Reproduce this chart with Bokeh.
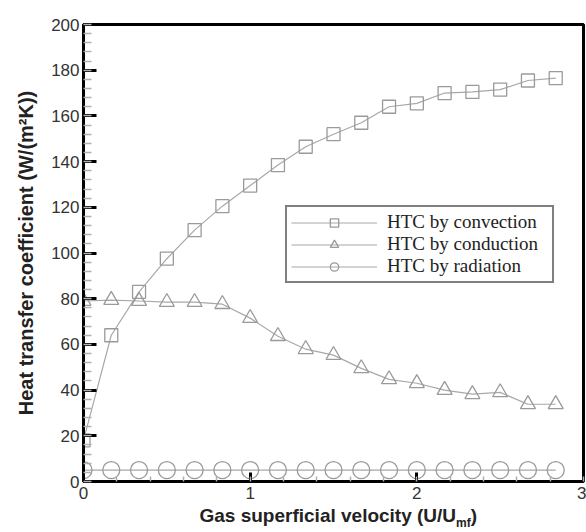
from bokeh.plotting import figure
from bokeh.models import (SingleIntervalTicker, FixedTicker, LinearAxis, Legend, LegendItem,
                          Range1d)
from bokeh.embed import file_html
from bokeh.resources import INLINE

# ---- data ----
velocity = [0, 1/6, 2/6, 3/6, 4/6, 5/6, 1.0, 7/6, 8/6, 9/6, 10/6, 11/6, 2.0, 13/6, 14/6, 15/6, 16/6, 17/6]
htc_convection = [18, 64, 83, 97.5, 110, 120.5, 129.5, 138.5, 146.5, 152, 157, 164, 165.5, 170, 170.5, 171.5, 175.5, 176.5]
htc_conduction = [79, 79.4, 79, 78.5, 78.5, 77.6, 71.5, 63.6, 57.9, 55.3, 49.5, 44.7, 43, 40, 38.2, 39, 33.8, 33.8]
htc_radiation = [5, 5, 5, 5, 5, 5, 5, 5, 5, 5, 5, 5, 5, 5, 5, 5, 5, 5]
series_names = ["HTC by convection", "HTC by conduction", "HTC by radiation"]
x_title_parts = ["Gas superficial velocity (U/U", "mf", ")"]
y_title = "Heat transfer coefficient (W/(m²K))"

GRAY_LINE = "#a8a8a8"
GRAY_MARK = "#9a9a9a"

W, H = 586, 532
ML, MR, MT, MB = 83, 3, 24, 51
X0, X1 = 0, 3

p = figure(width=W, height=H, output_backend="svg", toolbar_location=None,
           x_range=Range1d(X0, X1), y_range=Range1d(0, 200),
           min_border_left=ML, min_border_right=MR, min_border_top=MT, min_border_bottom=MB,
           background_fill_color="white", border_fill_color="white")

p.outline_line_color = "black"
p.outline_line_width = 3
p.grid.visible = False

# convection
r1l = p.line(velocity, htc_convection, line_color=GRAY_LINE, line_width=1.2)
r1m = p.scatter(velocity, htc_convection, marker="square", size=13, fill_color=None,
                line_color=GRAY_MARK, line_width=1.3)
# conduction
r2l = p.line(velocity, htc_conduction, line_color=GRAY_LINE, line_width=1.2)
r2m = p.scatter(velocity, htc_conduction, marker="triangle", size=15, fill_color=None,
                line_color=GRAY_MARK, line_width=1.3)
# radiation
r3l = p.line(velocity, htc_radiation, line_color=GRAY_LINE, line_width=1.2)
r3m = p.scatter(velocity, htc_radiation, marker="circle", size=17, fill_color=None,
                line_color=GRAY_MARK, line_width=1.3)

# axes
for ax in (p.xaxis[0], p.yaxis[0]):
    ax.axis_line_color = "black"
    ax.axis_line_width = 3
    ax.major_tick_line_color = "black"
    ax.major_tick_line_width = 3
    ax.major_tick_out = 0
    ax.minor_tick_out = 0
    ax.minor_tick_line_color = "#b0b0b0"
    ax.minor_tick_line_width = 1.5
    ax.major_label_text_font = "Liberation Sans"
    ax.major_label_text_font_size = "17px"
    ax.major_label_text_color = "#333333"

p.xaxis.ticker = SingleIntervalTicker(interval=1, num_minor_ticks=5)
p.yaxis.ticker = SingleIntervalTicker(interval=20, num_minor_ticks=5)
p.yaxis.major_tick_in = 13
p.yaxis.minor_tick_in = 8
p.xaxis.major_tick_in = 9
p.xaxis.minor_tick_in = 5
p.yaxis.major_label_standoff = 4
p.xaxis.major_label_standoff = 5

p.yaxis.axis_label = y_title
p.yaxis.axis_label_text_font = "Liberation Sans"
p.yaxis.axis_label_text_font_style = "bold"
p.yaxis.axis_label_text_font_size = "20px"
p.yaxis.axis_label_text_color = "#222222"
p.yaxis.axis_label_standoff = 11

# ---- x axis title with subscript: drawn as labels of two tick-less helper axes ----
TITLE_PX, SUB_PX = 19, 12
frame_w = W - ML - MR
px_per_unit = frame_w / (X1 - X0)
w_main = 13.505 * TITLE_PX          # Arial/Liberation Sans Bold advance widths (em)
w_sub = 1.222 * SUB_PX
w_par = 0.333 * TITLE_PX
start_px = 116                      # left edge of the title, relative to the frame
c_main = round((start_px + w_main / 2) / px_per_unit, 4)
c_sub = round((start_px + w_main + w_sub / 2) / px_per_unit, 4)
c_par = round((start_px + w_main + w_sub + w_par / 2) / px_per_unit, 4)


def helper_axis(ticks, labels, size, standoff):
    ax = LinearAxis(ticker=FixedTicker(ticks=ticks, minor_ticks=[]),
                    major_label_overrides=dict(zip(ticks, labels)))
    ax.axis_line_color = None
    ax.major_tick_line_color = None
    ax.minor_tick_line_color = None
    ax.major_tick_in = 0
    ax.major_tick_out = 0
    ax.minor_tick_in = 0
    ax.minor_tick_out = 0
    ax.major_label_standoff = standoff
    ax.major_label_text_font = "Liberation Sans"
    ax.major_label_text_font_style = "bold"
    ax.major_label_text_font_size = f"{size}px"
    ax.major_label_text_color = "#222222"
    return ax


p.add_layout(helper_axis([c_main, c_par], [x_title_parts[0], x_title_parts[2]], TITLE_PX, 3), "below")
p.add_layout(helper_axis([c_sub], [x_title_parts[1]], SUB_PX, -13), "below")

legend = Legend(items=[
    LegendItem(label=series_names[0], renderers=[r1l, r1m]),
    LegendItem(label=series_names[1], renderers=[r2l, r2m]),
    LegendItem(label=series_names[2], renderers=[r3l, r3m]),
], location=(202, 198))
legend.label_text_font = "Liberation Serif"
legend.label_text_font_size = "19px"
legend.label_text_color = "#222222"
legend.border_line_color = "black"
legend.border_line_width = 2.5
legend.background_fill_color = "white"
legend.background_fill_alpha = 1
legend.padding = 4
legend.spacing = 0
legend.margin = 0
legend.glyph_width = 86
legend.glyph_height = 21
legend.label_height = 21
legend.label_standoff = 10
legend.label_width = 161
p.add_layout(legend, "center")

open("out.html", "w").write(file_html(p, INLINE))
